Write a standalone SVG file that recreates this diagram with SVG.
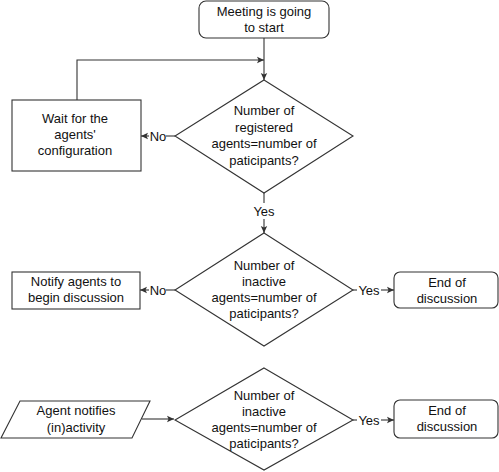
<svg xmlns="http://www.w3.org/2000/svg" width="499" height="472" viewBox="0 0 499 472">
<defs>
<marker id="arr" markerUnits="userSpaceOnUse" markerWidth="8" markerHeight="8" refX="7" refY="4" orient="auto">
<path d="M0,0.8 L7,4 L0,7.2 L1.5,4 Z" fill="#333"/>
</marker>
<style>
.n{fill:#fff;stroke:#333;stroke-width:1.1}
.c{fill:none;stroke:#333;stroke-width:1.1}
text{font-family:"Liberation Sans",Arial,sans-serif;font-size:13px;fill:#111;text-anchor:middle}
</style>
</defs>
<rect width="499" height="472" fill="#fff"/>
<g id="connectors">
<line class="c" x1="264" y1="38" x2="264" y2="80" marker-end="url(#arr)"/>
<polyline class="c" points="77,100 77,60 264,60" marker-end="url(#arr)"/>
<line class="c" x1="175" y1="136" x2="166" y2="136"/>
<line class="c" x1="149" y1="136" x2="141" y2="136" marker-end="url(#arr)"/>
<text x="158" y="140.5">No</text>
<line class="c" x1="264" y1="193" x2="264" y2="203"/>
<text x="264" y="215.5">Yes</text>
<line class="c" x1="264" y1="219" x2="264" y2="233" marker-end="url(#arr)"/>
<line class="c" x1="175" y1="290" x2="166" y2="290"/>
<line class="c" x1="149" y1="290" x2="140" y2="290" marker-end="url(#arr)"/>
<text x="158" y="294.5">No</text>
<line class="c" x1="353" y1="290" x2="357" y2="290"/>
<text x="369" y="294.5">Yes</text>
<line class="c" x1="381" y1="290" x2="394" y2="290" marker-end="url(#arr)"/>
<line class="c" x1="142" y1="419" x2="174" y2="419" marker-end="url(#arr)"/>
<line class="c" x1="353" y1="420" x2="357" y2="420"/>
<text x="369" y="424.5">Yes</text>
<line class="c" x1="381" y1="420" x2="394" y2="420" marker-end="url(#arr)"/>
</g>
<g id="start">
<rect class="n" x="199" y="1" width="130" height="37" rx="7"/>
<text x="264" y="15.5">Meeting is going</text>
<text x="264" y="31.5">to start</text>
</g>
<g id="wait">
<rect class="n" x="12" y="100" width="129" height="71"/>
<text x="75" y="123">Wait for the</text>
<text x="75" y="139">agents'</text>
<text x="75" y="155">configuration</text>
</g>
<g id="decision1">
<polygon class="n" points="264,80 353,136 264,193 175,136"/>
<text x="264" y="115">Number of</text>
<text x="264" y="131.5">registered</text>
<text x="264" y="148">agents=number of</text>
<text x="264" y="164.5">paticipants?</text>
</g>
<g id="decision2">
<polygon class="n" points="264,233 353,290 264,346 175,290"/>
<text x="264" y="269.5">Number of</text>
<text x="264" y="286">inactive</text>
<text x="264" y="302">agents=number of</text>
<text x="264" y="318">paticipants?</text>
</g>
<g id="notify">
<rect class="n" x="12" y="272" width="128" height="37"/>
<text x="76" y="286">Notify agents to</text>
<text x="76" y="302">begin discussion</text>
</g>
<g id="end1">
<rect class="n" x="394" y="272" width="104" height="36" rx="6"/>
<text x="447" y="286.5">End of</text>
<text x="447" y="302.5">discussion</text>
</g>
<g id="agent">
<polygon class="n" points="20,401 150,401 132,438 1,438"/>
<text x="76" y="415">Agent notifies</text>
<text x="76" y="432">(in)activity</text>
</g>
<g id="decision3">
<polygon class="n" points="264,368 353,420 264,470 175,420"/>
<text x="264" y="399.5">Number of</text>
<text x="264" y="416">inactive</text>
<text x="264" y="432">agents=number of</text>
<text x="264" y="448">paticipants?</text>
</g>
<g id="end2">
<rect class="n" x="394" y="400" width="104" height="38" rx="6"/>
<text x="447" y="414.5">End of</text>
<text x="447" y="431">discussion</text>
</g>
</svg>
